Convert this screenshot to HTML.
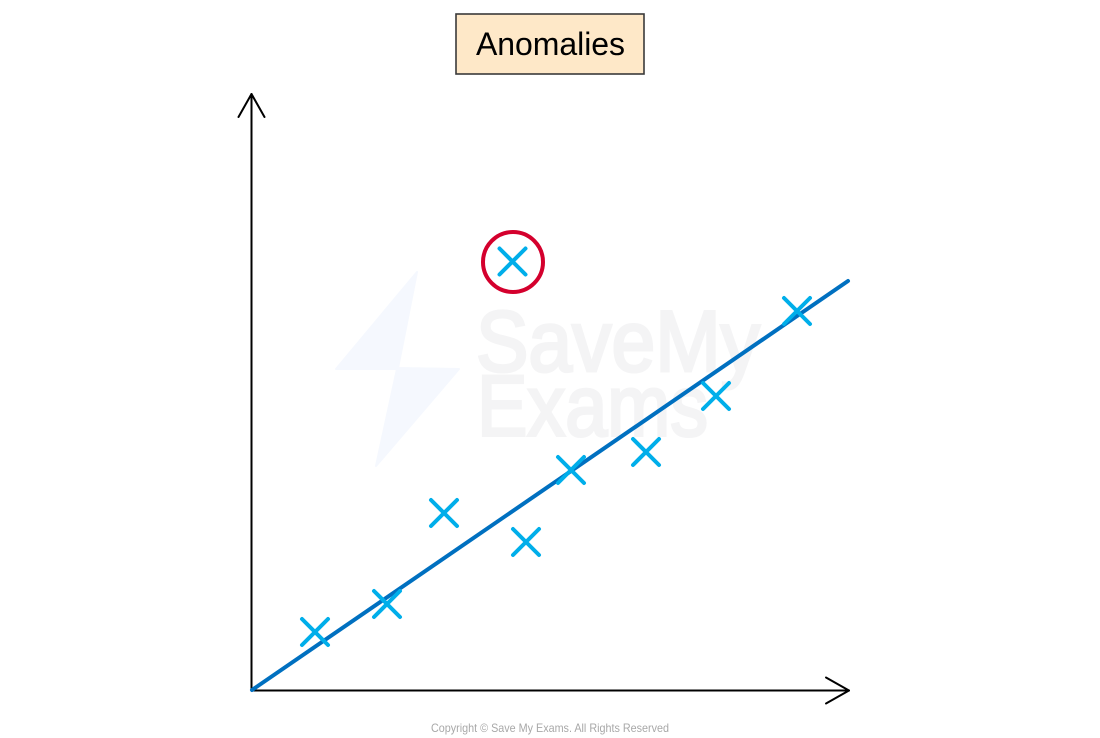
<!DOCTYPE html>
<html>
<head>
<meta charset="utf-8">
<style>
html,body{margin:0;padding:0;background:#fff;width:1100px;height:738px;overflow:hidden}
svg{display:block}
text{font-family:"Liberation Sans",sans-serif}
</style>
</head>
<body>
<svg width="1100" height="738" viewBox="0 0 1100 738" xmlns="http://www.w3.org/2000/svg">
<rect x="456" y="14" width="188" height="60" fill="#fee8c8" stroke="#3a3a3a" stroke-width="1.6"/>
<text x="476" y="55" font-size="32" fill="#000" textLength="149" lengthAdjust="spacing">Anomalies</text>

<polygon points="417,272 336,369 397,369 376,466 459,369 398,368" fill="#f5f8fe" stroke="#f5f8fe" stroke-width="2" stroke-linejoin="round"/>
<text x="476" y="371" font-size="86" fill="#f4f4f5" stroke="#f4f4f5" stroke-width="3" textLength="284" lengthAdjust="spacingAndGlyphs">SaveMy</text>
<text x="477" y="435.500" font-size="86" fill="#f4f4f5" stroke="#f4f4f5" stroke-width="3" textLength="231" lengthAdjust="spacingAndGlyphs">Exams</text>

<g fill="none" stroke="#000" stroke-width="2" stroke-linecap="round" stroke-linejoin="round">
<path d="M251.500 690.500V94"/>
<path d="M238.500 117L251.500 94L264.500 117"/>
<path d="M251.500 690.500H849"/>
<path d="M826 677.500L849 690.500L826 703.500"/>
</g>

<line x1="252" y1="690" x2="848" y2="281" stroke="#0070c0" stroke-width="4" stroke-linecap="round"/>

<g fill="none" stroke="#00aeea" stroke-width="4" stroke-linecap="round">
<path d="M302 619L328 645M328 619L302 645"/>
<path d="M374 591L400 617M400 591L374 617"/>
<path d="M431 500L457 526M457 500L431 526"/>
<path d="M513 529L539 555M539 529L513 555"/>
<path d="M558 457L584 483M584 457L558 483"/>
<path d="M633 439L659 465M659 439L633 465"/>
<path d="M703 383L729 409M729 383L703 409"/>
<path d="M784 298L810 324M810 298L784 324"/>
<path d="M499.500 248.500L525.500 274.500M525.500 248.500L499.500 274.500"/>
</g>
<circle cx="513" cy="262" r="30" fill="none" stroke="#d4002d" stroke-width="4"/>

<text x="431" y="732" font-size="12" fill="#a8a8a8" textLength="238" lengthAdjust="spacingAndGlyphs">Copyright © Save My Exams. All Rights Reserved</text>
</svg>
</body>
</html>
